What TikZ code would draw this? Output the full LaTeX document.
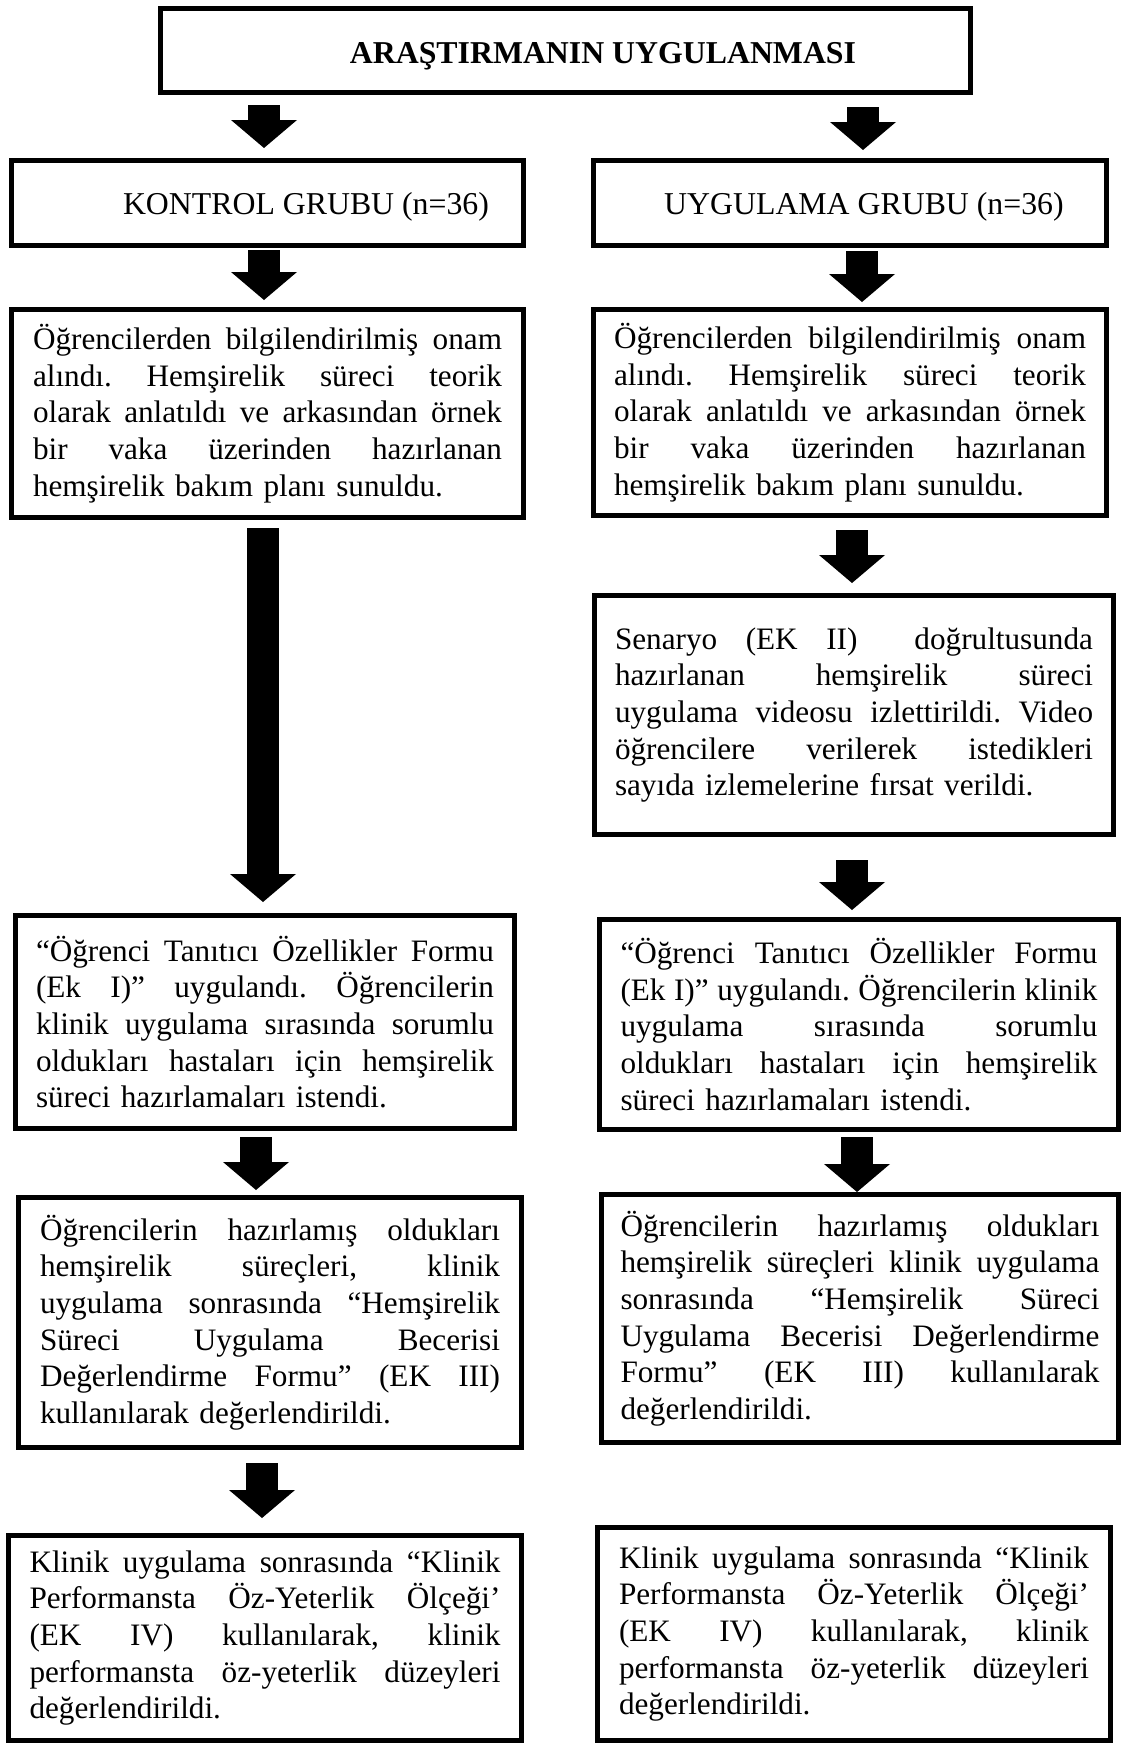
\documentclass[tikz,border=0pt]{standalone}
\usepackage{fontspec}
\setmainfont{Liberation Serif}
\usetikzlibrary{arrows.meta}
\newcommand\jlw{200pt}
\newcommand\jl[1]{\leavevmode\hbox to \jlw{\spaceskip=0.25em plus 2em minus 0.1em\relax\xspaceskip=\spaceskip #1}}
\begin{document}
\begin{tikzpicture}[x=0.5pt,y=-0.5pt,
  txt/.style={font=\fontsize{15.6pt}{18.35pt}\selectfont},
  hdr/.style={font=\fontsize{15.9pt}{18.35pt}\selectfont},
  box/.style={draw, line width=2.5pt, inner sep=0pt, txt, align=left},
  jw/.style={text width=#1, execute at begin node={\frenchspacing\def\jlw{#1}}},
  barrow/.style={line width=16pt, -{Triangle[width=33pt,length=14pt,line width=0pt]}}]
\useasboundingbox (0,0) rectangle (1122,1745);

% header boxes
\node[box, minimum width=405pt, minimum height=42pt] (title) at (565.5,50.5) {};
\node[hdr, font=\fontsize{15.9pt}{18.35pt}\selectfont\bfseries, anchor=base] (titletxt) at (603,63) {ARAŞTIRMANIN UYGULANMASI};
\node[box, minimum width=256pt, minimum height=42.5pt] (kg) at (267.5,203) {};
\node[hdr, anchor=base] (kgtxt) at (306,214) {KONTROL GRUBU (n=36)};
\node[box, minimum width=256.5pt, minimum height=42.5pt] (ug) at (850,203) {};
\node[hdr, anchor=base] (ugtxt) at (864,214) {UYGULAMA GRUBU (n=36)};

% left column
\node[box, minimum width=256pt, minimum height=104pt, jw=234.5pt] (l2) at (267.5,413.5) {%
\jl{Öğrencilerden bilgilendirilmiş onam}\\
\jl{alındı. Hemşirelik süreci teorik}\\
\jl{olarak anlatıldı ve arkasından örnek}\\
\jl{bir vaka üzerinden hazırlanan}\\
hemşirelik bakım planı sunuldu.};

\node[box, minimum width=249.5pt, minimum height=106.5pt, jw=229pt] (l3) at (265,1022) {%
\jl{“Öğrenci Tanıtıcı Özellikler Formu}\\
\jl{(Ek I)” uygulandı. Öğrencilerin}\\
\jl{klinik uygulama sırasında sorumlu}\\
\jl{oldukları hastaları için hemşirelik}\\
süreci hazırlamaları istendi.};

\node[box, minimum width=251.5pt, minimum height=125pt, jw=230pt] (l4) at (270,1322.5) {%
\jl{Öğrencilerin hazırlamış oldukları}\\
\jl{hemşirelik süreçleri, klinik}\\
\jl{uygulama sonrasında “Hemşirelik}\\
\jl{Süreci Uygulama Becerisi}\\
\jl{Değerlendirme Formu” (EK III)}\\
kullanılarak değerlendirildi.};

\node[box, minimum width=256.5pt, minimum height=102.5pt, jw=235.5pt] (l5) at (265,1638) {%
\jl{Klinik uygulama sonrasında “Klinik}\\
\jl{Performansta Öz-Yeterlik Ölçeği’}\\
\jl{(EK IV) kullanılarak, klinik}\\
\jl{performansta öz-yeterlik düzeyleri}\\
değerlendirildi.};

% right column
\node[box, minimum width=256.5pt, minimum height=103pt, jw=236pt] (r2) at (850,412.5) {%
\jl{Öğrencilerden bilgilendirilmiş onam}\\
\jl{alındı. Hemşirelik süreci teorik}\\
\jl{olarak anlatıldı ve arkasından örnek}\\
\jl{bir vaka üzerinden hazırlanan}\\
hemşirelik bakım planı sunuldu.};

\node[box, minimum width=259.5pt, minimum height=119.5pt, jw=239pt] (r3) at (854,715) {%
\jl{Senaryo (EK II) \ doğrultusunda}\\
\jl{hazırlanan hemşirelik süreci}\\
\jl{uygulama videosu izlettirildi. Video}\\
\jl{öğrencilere verilerek istedikleri}\\
sayıda izlemelerine fırsat verildi.};

\node[box, minimum width=259.5pt, minimum height=105pt, jw=238.5pt] (r4) at (859,1024.5) {%
\jl{“Öğrenci Tanıtıcı Özellikler Formu}\\
\jl{(Ek I)” uygulandı. Öğrencilerin klinik}\\
\jl{uygulama sırasında sorumlu}\\
\jl{oldukları hastaları için hemşirelik}\\
süreci hazırlamaları istendi.};

\node[box, minimum width=258.5pt, minimum height=124pt, jw=239.5pt] (r5) at (860,1318.5) {%
\jl{Öğrencilerin hazırlamış oldukları}\\
\jl{hemşirelik süreçleri klinik uygulama}\\
\jl{sonrasında “Hemşirelik Süreci}\\
\jl{Uygulama Becerisi Değerlendirme}\\
\jl{Formu” (EK III) kullanılarak}\\
değerlendirildi.};

\node[box, minimum width=256.5pt, minimum height=106.5pt, jw=235pt] (r6) at (854,1634) {%
\jl{Klinik uygulama sonrasında “Klinik}\\
\jl{Performansta Öz-Yeterlik Ölçeği’}\\
\jl{(EK IV) kullanılarak, klinik}\\
\jl{performansta öz-yeterlik düzeyleri}\\
değerlendirildi.};

% arrow end points
\coordinate (a1s) at (264,105);  \coordinate (a1e) at (264,148);
\coordinate (b1s) at (863,107);  \coordinate (b1e) at (863,150);
\coordinate (a2s) at (264,250);  \coordinate (a2e) at (264,300);
\coordinate (b2s) at (862,251);  \coordinate (b2e) at (862,302);
\coordinate (a3s) at (263,528);  \coordinate (a3e) at (263,902);
\coordinate (b3s) at (852,530);  \coordinate (b3e) at (852,583);
\coordinate (b4s) at (852,860);  \coordinate (b4e) at (852,910);
\coordinate (a5s) at (256,1137); \coordinate (a5e) at (256,1190);
\coordinate (b5s) at (857,1137); \coordinate (b5e) at (857,1192);
\coordinate (a6s) at (262,1463); \coordinate (a6e) at (262,1518);

\draw[barrow] (a1s) -- (a1e);
\draw[barrow] (b1s) -- (b1e);
\draw[barrow] (a2s) -- (a2e);
\draw[barrow] (b2s) -- (b2e);
\draw[barrow] (a3s) -- (a3e);
\draw[barrow] (b3s) -- (b3e);
\draw[barrow] (b4s) -- (b4e);
\draw[barrow] (a5s) -- (a5e);
\draw[barrow] (b5s) -- (b5e);
\draw[barrow] (a6s) -- (a6e);
\end{tikzpicture}
\end{document}
